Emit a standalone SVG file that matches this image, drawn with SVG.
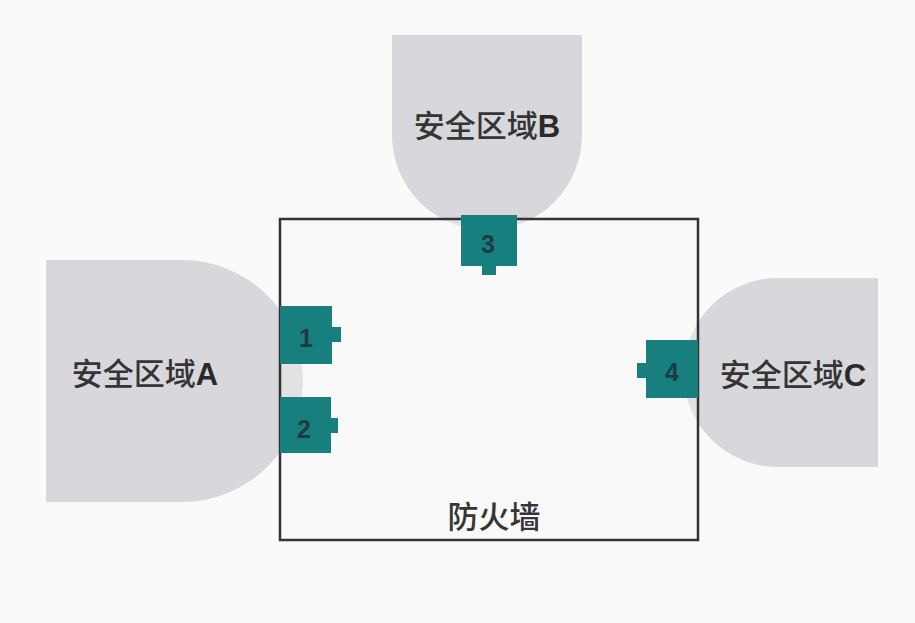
<svg xmlns="http://www.w3.org/2000/svg" width="915" height="623" viewBox="0 0 915 623">
<style>
.zone{fill:#d8d8dc}
.lbl{font-family:"Noto Sans CJK SC","Liberation Sans",sans-serif;font-size:31px;font-weight:500;fill:#353535;text-anchor:middle}
.lat{font-family:"Liberation Sans",sans-serif;font-weight:bold;fill:#2a2a2a}
.port{fill:#17807f}
.num{font-family:"Liberation Sans",sans-serif;font-size:25px;font-weight:bold;fill:#1c3b42;text-anchor:middle}
</style>
<rect width="915" height="623" fill="#fafafa"/>
<g id="zoneA">
<path class="zone" d="M46,260 H182 A121,121 0 0 1 182,502 H46 Z"/>
<text class="lbl" x="145" y="385">安全区域<tspan class="lat">A</tspan></text>
</g>
<g id="zoneB">
<path class="zone" d="M392,35 H582 V135 A95,95 0 0 1 392,135 Z"/>
<text class="lbl" x="487" y="137">安全区域<tspan class="lat">B</tspan></text>
</g>
<g id="zoneC">
<path class="zone" d="M878,278 H778 A94.5,94.5 0 0 0 778,467 H878 Z"/>
<text class="lbl" x="793" y="386">安全区域<tspan class="lat">C</tspan></text>
</g>
<g id="firewall">
<rect x="280" y="219" width="418" height="321" fill="#fafafa" fill-opacity="0.3" stroke="#333" stroke-width="2.5"/>
<text class="lbl" x="494" y="528">防火墙</text>
</g>
<g id="port1">
<path class="port" d="M280,306 H332 V327 H341 V342 H332 V364 H280 Z"/>
<text class="num" x="306" y="347">1</text>
</g>
<g id="port2">
<path class="port" d="M280,397 H331 V418 H338 V433 H331 V453 H280 Z"/>
<text class="num" x="304" y="438">2</text>
</g>
<g id="port3">
<path class="port" d="M461,215 H517 V266 H496 V275 H482 V266 H461 Z"/>
<text class="num" x="488" y="253">3</text>
</g>
<g id="port4">
<path class="port" d="M646,340 H698 V398 H646 V378 H637 V363 H646 Z"/>
<text class="num" x="672" y="381">4</text>
</g>
<g id="connectors"/>
</svg>
